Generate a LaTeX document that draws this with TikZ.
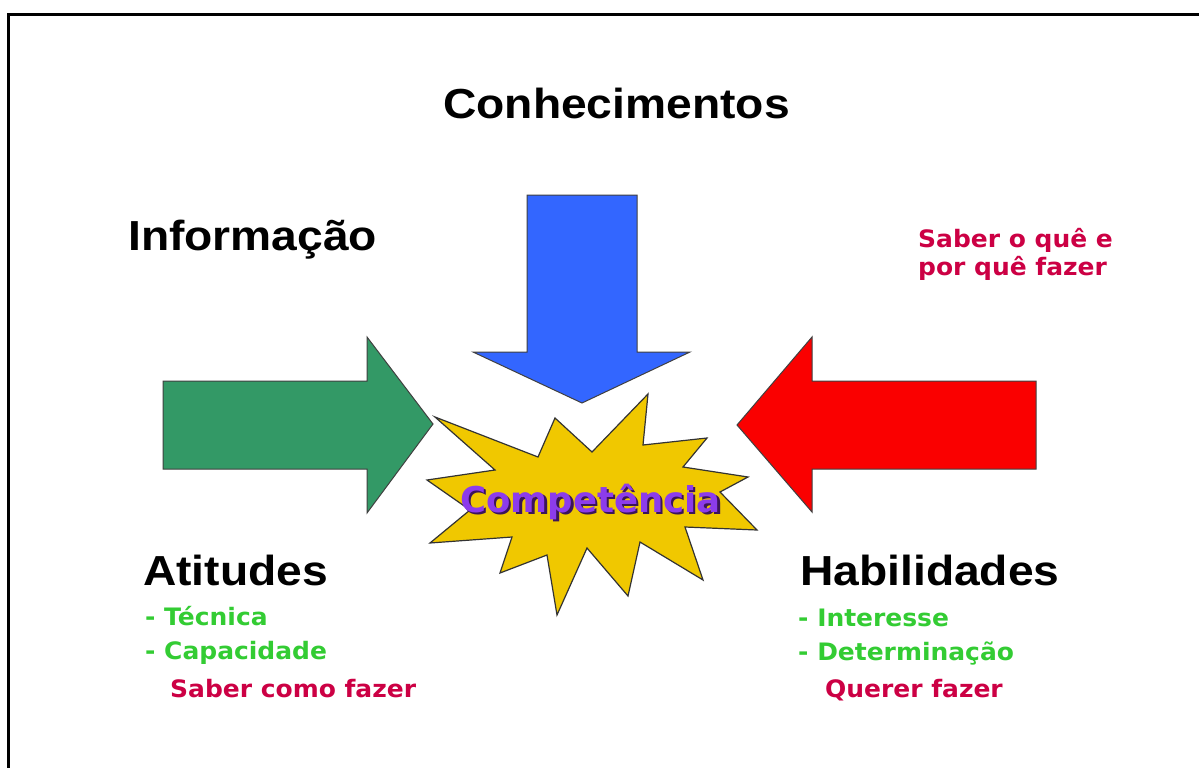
\documentclass[tikz,border=0pt]{standalone}
\usepackage{fontspec}
\usepackage{tikz}
\newfontfamily\headfont[FakeStretch=1.1]{Liberation Sans}
\newfontfamily\itemfont[FakeStretch=1.04]{DejaVu Sans}
\newfontfamily\compfont{DejaVu Sans}
\definecolor{arrowgreen}{RGB}{51,153,102}
\definecolor{arrowblue}{RGB}{51,102,255}
\definecolor{arrowred}{RGB}{250,0,0}
\definecolor{stargold}{RGB}{240,200,0}
\definecolor{itemgreen}{RGB}{51,204,51}
\definecolor{notecrimson}{RGB}{204,0,68}
\definecolor{compviolet}{RGB}{140,60,235}
\definecolor{compshadow}{RGB}{60,20,90}
\tikzstyle{every node}=[inner sep=0pt,anchor=base west]
\tikzstyle{head}=[font=\headfont\bfseries\fontsize{42}{48}\selectfont,text=black]
\tikzstyle{item}=[font=\itemfont\bfseries\fontsize{24}{28}\selectfont,text=itemgreen]
\tikzstyle{note}=[font=\itemfont\bfseries\fontsize{24}{28}\selectfont,text=notecrimson]
\tikzstyle{fatarrow}=[draw=black!75,line width=1pt,line join=miter]
\newcommand{\shadowed}[1]{{\color{compshadow}\rlap{\hspace{2.5pt}\raisebox{-2.5pt}{#1}}}#1}

\begin{document}
\begin{tikzpicture}[x=1pt,y=-1pt]
  \useasboundingbox (0,0) rectangle (1199,768);
  \fill[white] (0,0) rectangle (1199,768);
  \draw[line width=3pt] (8.5,768) -- (8.5,14.5) -- (1199,14.5);
  % arrows
  \fill[arrowgreen,fatarrow] (163,381) -- (367,381) -- (367,337) -- (433,424)
    -- (367,513) -- (367,469) -- (163,469) -- cycle;
  \fill[arrowblue,fatarrow] (527,195) -- (637,195) -- (637,352) -- (690,352)
    -- (582,403) -- (473,352) -- (527,352) -- cycle;
  \fill[arrowred,fatarrow] (1036,381) -- (812,381) -- (812,337) -- (737,425)
    -- (812,512) -- (812,469) -- (1036,469) -- cycle;
  % star
  \filldraw[fill=stargold,draw=black!80,line width=1.2pt,line join=miter]
    (648,394) -- (643,445) -- (707,438) -- (683,467) -- (748,477) -- (720,492)
    -- (757,530) -- (685,527) -- (703,580) -- (640,542) -- (628,596) -- (587,548)
    -- (557,615) -- (547,555) -- (500,573) -- (512,537) -- (430,543) -- (470,510)
    -- (427,480) -- (495,470) -- (435,417) -- (538,457) -- (555,418) -- (592,452) -- cycle;
  \node (competencia) at (460,512) [font=\compfont\bfseries\fontsize{35.5}{40}\selectfont,text=compviolet] {\shadowed{Competência}};
  % headings
  \node[head] (conhecimentos) at (443,118) {Conhecimentos};
  \node[head] (informacao) at (128,250) {Informação};
  \node[head] (atitudes) at (143,585) {Atitudes};
  \node[head] (habilidades) at (800,585) {Habilidades};
  % notes
  \node[note] (saberque) at (918,247) {Saber o quê e};
  \node[note] (porque) at (918,275) {por quê fazer};
  \node[item] (tecnica) at (145,625) {- Técnica};
  \node[item] (capacidade) at (145,659) {- Capacidade};
  \node[note] (sabercomo) at (170,697) {Saber como fazer};
  \node[item] (interesse) at (798,626) {- Interesse};
  \node[item] (determinacao) at (798,660) {- Determinação};
  \node[note] (querer) at (825,697) {Querer fazer};
\end{tikzpicture}
\end{document}
